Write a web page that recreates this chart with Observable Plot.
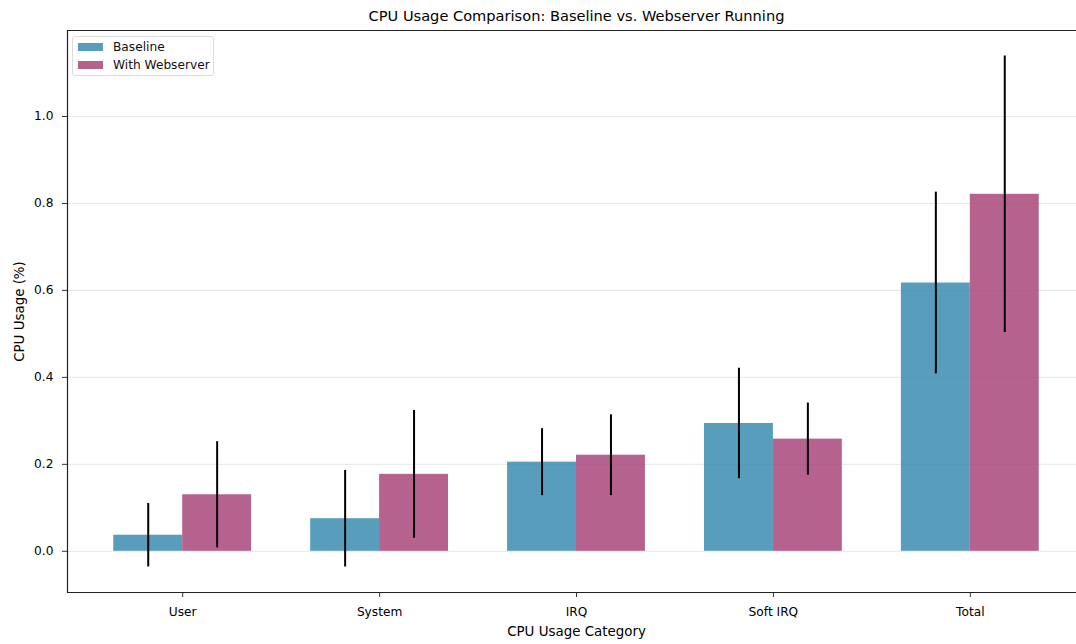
<!DOCTYPE html>
<html>
<head>
<meta charset="utf-8">
<script src="https://cdn.jsdelivr.net/npm/d3@7"></script>
<script src="https://cdn.jsdelivr.net/npm/@observablehq/plot@0.6"></script>
<style>
  html, body { margin: 0; padding: 0; background: #fff; overflow: hidden; }
  #wrap { position: relative; width: 1076px; height: 644px; font-family: "DejaVu Sans", sans-serif; }
  #chart svg { max-width: none !important; width: 1076px !important; height: 644px !important; display: block; overflow: hidden !important; }
  #legend { position: absolute; left: 72px; top: 36px; width: 140px; height: 38px; border: 1px solid #dcdcdc; border-radius: 3px; background: rgba(255,255,255,0.8); font-size: 12.2px; color: #111; }
  .item { position: absolute; left: 5px; display: flex; align-items: center; height: 16px; }
  .sw { width: 25px; height: 8.5px; margin-right: 10px; }
</style>
</head>
<body>
<div id="wrap">
  <div id="chart"></div>
  <div id="legend"></div>
</div>
<script>
// ---- data ----
const categories = ["User", "System", "IRQ", "Soft IRQ", "Total"];
const baselineMean = [0.037, 0.075, 0.205, 0.294, 0.617];
const baselineErr  = [0.073, 0.111, 0.077, 0.127, 0.209];
const webMean      = [0.130, 0.177, 0.221, 0.258, 0.821];
const webErr       = [0.122, 0.147, 0.093, 0.083, 0.318];
const seriesNames  = ["Baseline", "With Webserver"];
const seriesColors = ["#2E86AB", "#A23B72"];
const yTicks = [0.0, 0.2, 0.4, 0.6, 0.8, 1.0];
const titleText = "CPU Usage Comparison: Baseline vs. Webserver Running";
const xLabel = "CPU Usage Category";
const yLabel = "CPU Usage (%)";

// ---- table ----
const barWidth = 0.35;
const rows = [];
categories.forEach((c, i) => {
  rows.push({cat: c, i, series: seriesNames[0], value: baselineMean[i], err: baselineErr[i], off: -1});
  rows.push({cat: c, i, series: seriesNames[1], value: webMean[i], err: webErr[i], off: 0});
});
const lo = -barWidth, hi = categories.length - 1 + barWidth;
const pad = 0.05 * (hi - lo);
const xDomain = [lo - pad, hi + pad];
const allLo = d3.min(rows, d => d.value - d.err), allHi = d3.max(rows, d => d.value + d.err);
const ypad = 0.05 * (allHi - allLo);
const yDomain = [allLo - ypad, allHi + ypad];

const font = "DejaVu Sans";
const chart = Plot.plot({
  width: 1076, height: 644,
  // the original figure's axes run past the right edge of the image (cropped)
  marginLeft: 67, marginRight: -9, marginTop: 30, marginBottom: 52,
  style: {fontFamily: font, fontSize: "12.2px", color: "#000", background: "#fff"},
  x: {type: "linear", domain: xDomain, label: null},
  y: {domain: yDomain, label: null},
  color: {domain: seriesNames, range: seriesColors},
  marks: [
    Plot.ruleY(yTicks, {stroke: "#b0b0b0", strokeOpacity: 0.3, strokeWidth: 1}),
    Plot.rectY(rows, {
      x1: d => d.i + d.off * barWidth,
      x2: d => d.i + (d.off + 1) * barWidth,
      y1: 0, y2: "value",
      fill: "series", fillOpacity: 0.8, inset: 0
    }),
    Plot.ruleX(rows, {
      x: d => d.i + (d.off + 0.5) * barWidth,
      y1: d => d.value - d.err, y2: d => d.value + d.err,
      stroke: "#000", strokeWidth: 2
    }),
    Plot.axisX(d3.range(categories.length), {
      tickFormat: i => categories[i], tickSize: 5, tickPadding: 10,
      stroke: "#333", fontSize: 12.2, label: null
    }),
    Plot.axisY(yTicks, {
      tickFormat: d3.format(".1f"), tickSize: 5, tickPadding: 9,
      stroke: "#333", fontSize: 12.2, label: null
    }),
    // spines (left, top, bottom)
    Plot.ruleX([xDomain[0]], {stroke: "#222", strokeWidth: 1.2}),
    Plot.ruleY([yDomain[0], yDomain[1]], {stroke: "#222", strokeWidth: 1.2}),
    Plot.text([titleText], {frameAnchor: "top", textAnchor: "middle", lineAnchor: "middle", dy: -14, fontSize: 14.6, fill: "#000"}),
    Plot.text([xLabel], {frameAnchor: "bottom", textAnchor: "middle", lineAnchor: "middle", dy: 39, fontSize: 13.4, fill: "#000"}),
    Plot.text([yLabel], {frameAnchor: "left", textAnchor: "middle", lineAnchor: "middle", dx: -48, rotate: -90, fontSize: 13.4, fill: "#000"})
  ]
});
document.getElementById("chart").appendChild(chart);

// ---- legend ----
const legend = document.getElementById("legend");
seriesNames.forEach((s, k) => {
  const item = document.createElement("div");
  item.className = "item";
  item.style.top = (2 + k * 18) + "px";
  const sw = document.createElement("div");
  sw.className = "sw";
  sw.style.background = seriesColors[k];
  sw.style.opacity = 0.8;
  const t = document.createElement("span");
  t.textContent = s;
  item.appendChild(sw); item.appendChild(t);
  legend.appendChild(item);
});
</script>
</body>
</html>
